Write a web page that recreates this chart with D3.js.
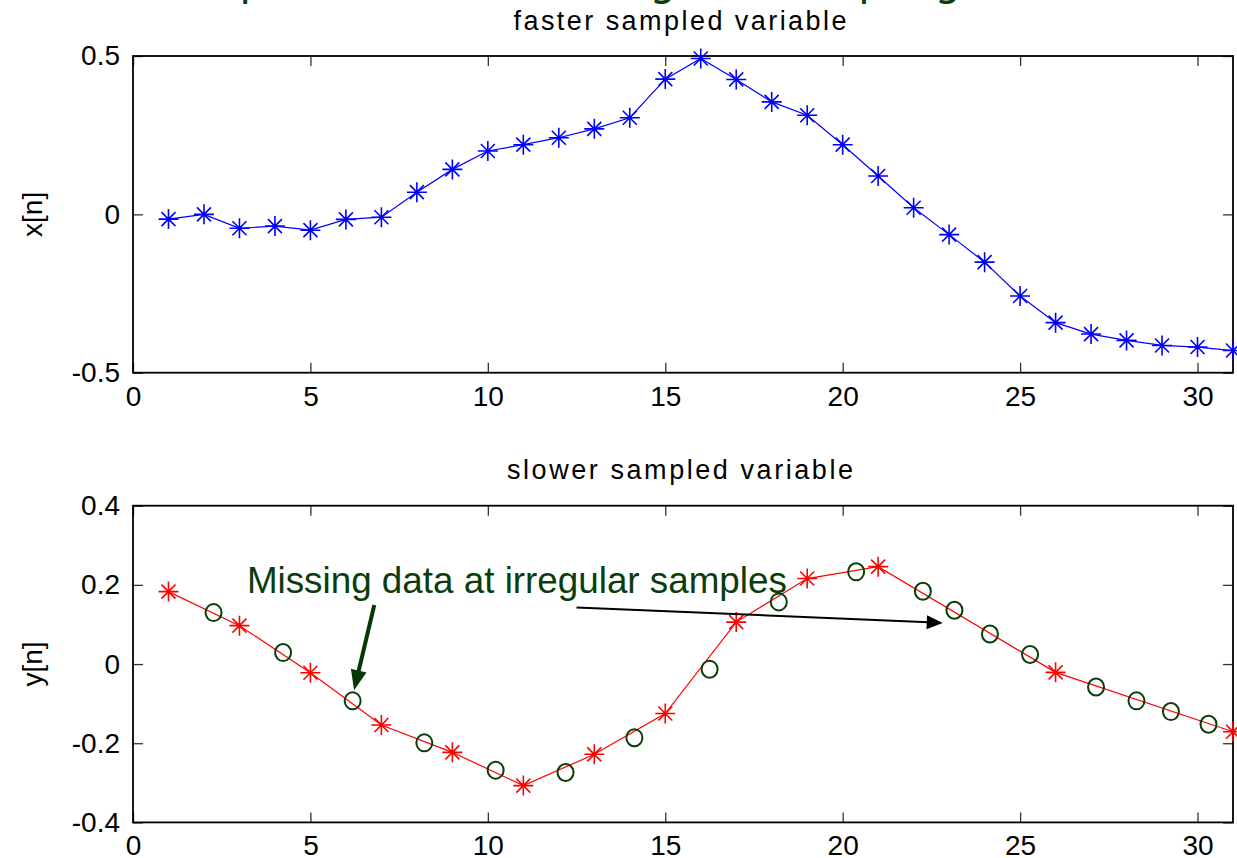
<!DOCTYPE html>
<html>
<head>
<meta charset="utf-8">
<script src="https://cdn.jsdelivr.net/npm/d3@7"></script>
<style>
  html, body { margin: 0; padding: 0; background: #fff; overflow: hidden; }
  svg { display: block; }
</style>
</head>
<body>
<svg id="chart" width="1237" height="858"></svg>
<script>
// ---------- DATA ----------
const topSamples = [1,2,3,4,5,6,7,8,9,10,11,12,13,14,15,16,17,18,19,20,21,22,23,24,25,26,27,28,29,30,31];
const topValues  = [-0.015, 0.000, -0.044, -0.037, -0.050, -0.016, -0.009, 0.070, 0.142, 0.200,
                    0.220, 0.242, 0.270, 0.305, 0.427, 0.492, 0.426, 0.355, 0.313, 0.220,
                    0.121, 0.021, -0.064, -0.151, -0.258, -0.342, -0.378, -0.398, -0.414, -0.419, -0.430];

const slowSamples = [1, 3, 5, 7, 9, 11, 13, 15, 17, 19, 21, 26, 31];
const slowValues  = [0.183, 0.097, -0.022, -0.154, -0.223, -0.307, -0.228, -0.125, 0.106, 0.216, 0.246, -0.021, -0.171];

const missSamples = [2.27, 4.23, 6.19, 8.21, 10.22, 12.19, 14.13, 16.25, 18.2, 20.38, 22.26, 23.15, 24.15, 25.28, 27.14, 28.28, 29.25, 30.31];
const missValues  = [0.130, 0.029, -0.093, -0.199, -0.268, -0.274, -0.186, -0.013, 0.157, 0.233, 0.184, 0.136, 0.076, 0.024, -0.058, -0.093, -0.120, -0.152];

const xTicks = [0, 5, 10, 15, 20, 25, 30];
const topYTicks = [-0.5, 0, 0.5];
const botYTicks = [-0.4, -0.2, 0, 0.2, 0.4];

const topTitle = "faster sampled variable";
const botTitle = "slower sampled variable";
const topYLabel = "x[n]";
const botYLabel = "y[n]";
const heading = "Example of data with irregular sampling";
const annotation = "Missing data at irregular samples";

// ---------- LAYOUT ----------
const svg = d3.select("#chart");
const FONT = "'Liberation Sans', Arial, sans-serif";
const GREEN = "#0b3d0b";

const x = d3.scaleLinear().domain([0, 31]).range([133, 1233]);
const yTop = d3.scaleLinear().domain([-0.5, 0.5]).range([372.7, 56]);
const yBot = d3.scaleLinear().domain([-0.4, 0.4]).range([822.4, 505.7]);

// heading (cut off at the top of the picture: only descenders show)
svg.append("text")
  .attr("x", 122).attr("y", -5)
  .attr("font-family", "'DejaVu Sans', sans-serif")
  .attr("font-size", 42)
  .attr("fill", GREEN)
  .attr("textLength", 839)
  .attr("lengthAdjust", "spacingAndGlyphs")
  .text(heading);

function drawPanel(y, yTicks, title, titleLen, titleY, ylabel) {
  const g = svg.append("g");
  const [x0, x1] = x.range();
  const [yb, yt] = y.range();
  const fmt = d => String(d);

  const axB = g.append("g").attr("transform", `translate(0,${yb})`)
    .call(d3.axisBottom(x).tickValues(xTicks).tickSize(-10).tickPadding(13).tickFormat(fmt));
  const axT = g.append("g").attr("transform", `translate(0,${yt})`)
    .call(d3.axisTop(x).tickValues(xTicks).tickSize(-10).tickFormat(""));
  const axL = g.append("g").attr("transform", `translate(${x0},0)`)
    .call(d3.axisLeft(y).tickValues(yTicks).tickSize(-10).tickPadding(13).tickFormat(fmt));
  const axR = g.append("g").attr("transform", `translate(${x1},0)`)
    .call(d3.axisRight(y).tickValues(yTicks).tickSize(-10).tickFormat(""));
  [axB, axT, axL, axR].forEach(a => {
    a.select(".domain").remove();
    a.selectAll(".tick line").attr("stroke", "#333").attr("stroke-width", 1.3);
    a.selectAll("text").attr("font-family", FONT).attr("font-size", 28).attr("fill", "#000");
  });

  g.append("rect")
    .attr("x", x0).attr("y", yt)
    .attr("width", x1 - x0).attr("height", yb - yt)
    .attr("fill", "none").attr("stroke", "#000").attr("stroke-width", 1.8);

  svg.append("text")
    .attr("x", (x0 + x1) / 2 - 3).attr("y", titleY)
    .attr("text-anchor", "middle")
    .attr("font-family", FONT).attr("font-size", 27)
    .attr("textLength", titleLen).attr("lengthAdjust", "spacing")
    .text(title);

  svg.append("text")
    .attr("transform", `translate(42,${(yt + yb) / 2}) rotate(-90)`)
    .attr("text-anchor", "middle")
    .attr("font-family", FONT).attr("font-size", 28)
    .text(ylabel);
  return g;
}

function asterisk(sel, color) {
  const r = 10, d = 7;
  sel.append("path")
    .attr("d", `M${-r},0H${r}M0,${-r}V${r}M${-d},${-d}L${d},${d}M${-d},${d}L${d},${-d}`)
    .attr("stroke", color).attr("stroke-width", 1.6).attr("fill", "none");
}

// ---------- TOP PANEL ----------
drawPanel(yTop, topYTicks, topTitle, 333, 30, topYLabel);
const topData = topSamples.map((n, i) => ({ n, v: topValues[i] }));
svg.append("path").datum(topData)
  .attr("d", d3.line().x(d => x(d.n)).y(d => yTop(d.v)))
  .attr("fill", "none").attr("stroke", "#0000ff").attr("stroke-width", 1.2);
svg.append("g").selectAll("g").data(topData).join("g")
  .attr("transform", d => `translate(${x(d.n)},${yTop(d.v)})`)
  .each(function () { asterisk(d3.select(this), "#0000ff"); });

// ---------- BOTTOM PANEL ----------
drawPanel(yBot, botYTicks, botTitle, 346, 479, botYLabel);
const slowData = slowSamples.map((n, i) => ({ n, v: slowValues[i] }));
const missData = missSamples.map((n, i) => ({ n, v: missValues[i] }));
svg.append("path").datum(slowData)
  .attr("d", d3.line().x(d => x(d.n)).y(d => yBot(d.v)))
  .attr("fill", "none").attr("stroke", "#ff0000").attr("stroke-width", 1.2);
svg.append("g").selectAll("g").data(slowData).join("g")
  .attr("transform", d => `translate(${x(d.n)},${yBot(d.v)})`)
  .each(function () { asterisk(d3.select(this), "#ff0000"); });
svg.append("g").selectAll("ellipse").data(missData).join("ellipse")
  .attr("cx", d => x(d.n)).attr("cy", d => yBot(d.v))
  .attr("rx", 8).attr("ry", 8.5)
  .attr("fill", "none").attr("stroke", GREEN).attr("stroke-width", 2);

// ---------- ANNOTATION ----------
function arrow(x1, y1, x2, y2, color, width, headLen, headW) {
  const dx = x2 - x1, dy = y2 - y1, L = Math.hypot(dx, dy);
  const ux = dx / L, uy = dy / L;
  const bx = x2 - ux * headLen, by = y2 - uy * headLen;
  svg.append("line").attr("x1", x1).attr("y1", y1).attr("x2", bx + ux * 2).attr("y2", by + uy * 2)
    .attr("stroke", color).attr("stroke-width", width);
  svg.append("polygon")
    .attr("points", [[x2, y2], [bx - uy * headW / 2, by + ux * headW / 2], [bx + uy * headW / 2, by - ux * headW / 2]].map(p => p.join(",")).join(" "))
    .attr("fill", color);
}
svg.append("text")
  .attr("x", x(3.21)).attr("y", yBot(0.179))
  .attr("font-family", "'Liberation Sans Narrow', 'Liberation Sans', sans-serif")
  .attr("font-size", 37)
  .attr("fill", GREEN)
  .attr("textLength", 540).attr("lengthAdjust", "spacingAndGlyphs")
  .text(annotation);
arrow(x(6.80), yBot(0.149), x(6.23), yBot(-0.066), "#063806", 4, 20, 16);
arrow(x(12.5), yBot(0.143), x(22.82), yBot(0.104), "#000", 2, 16, 14);
</script>
</body>
</html>
